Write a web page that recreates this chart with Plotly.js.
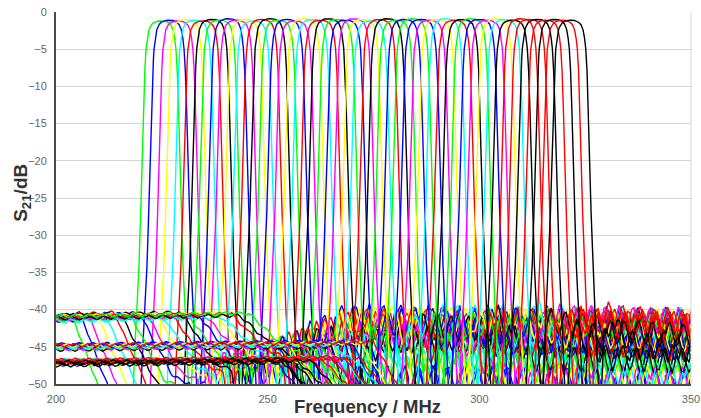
<!DOCTYPE html>
<html>
<head>
<meta charset="utf-8">
<script src="https://cdn.plot.ly/plotly-3.0.1.min.js"></script>
<style>html,body{margin:0;padding:0;background:#fff;}#chart{width:701px;height:418px;}</style>
</head>
<body>
<div id="chart"></div>
<script>
// Channel centre frequencies (MHz)
const centers = [224.8, 226.7, 228.8, 230.7, 232.8, 234.7, 236.8, 238.6, 240.7, 242.6,
                 244.7, 246.6, 248.6, 250.6, 252.5, 254.6, 256.5, 258.6, 260.5, 262.5,
                 264.4, 266.5, 268.4, 270.4, 272.4, 274.3, 276.4, 278.3, 280.3, 282.3,
                 284.2, 286.2, 288.2, 290.1, 292.1, 294.1, 296.0, 298.0, 300.0, 301.9,
                 303.9, 305.9, 307.8, 309.8, 311.8, 313.7, 315.7, 317.7, 319.6, 321.6];
// Passband peak (dB)
const peaks = [-1.2, -1.1, -1.2, -1.0, -1.1, -1.2, -1.0, -1.1, -0.9, -1.1,
               -1.0, -1.2, -1.0, -0.9, -1.1, -1.0, -1.2, -0.9, -1.0, -1.1,
               -0.9, -1.0, -1.1, -0.9, -1.0, -1.2, -1.0, -0.9, -1.1, -1.0,
               -0.9, -1.0, -1.1, -1.0, -0.9, -1.1, -1.0, -0.9, -1.0, -1.1,
               -0.9, -1.0, -1.1, -0.9, -1.0, -1.0, -1.1, -1.0, -1.1, -1.1];
const colors = ['#00ff00','#0000ff','#ff00ff','#ffff00','#00ffff','#ff0000','#000000',
                '#00ff00','#0000ff','#ff00ff','#ffff00','#00ffff','#ff0000','#000000',
                '#00ff00','#0000ff','#ff00ff','#ffff00','#00ffff','#ff0000','#000000',
                '#00ff00','#0000ff','#ff00ff','#ffff00','#00ffff','#ff0000','#000000',
                '#00ff00','#0000ff',
                '#00ff00','#0000ff','#ff00ff','#ffff00','#00ffff','#ff0000','#000000',
                '#00ff00','#0000ff','#ff00ff','#ffff00','#00ffff',
                '#000000','#ff0000','#ff0000','#000000','#ff0000','#000000','#ff0000','#000000'];
// Filter skirt shape: offset from centre (MHz) vs. attenuation relative to peak (dB)
const skirtOffset = [0, 1.0, 1.8, 2.4, 2.9, 3.25, 3.55, 3.85, 4.15, 4.45, 4.8, 5.2, 5.7, 6.2, 6.6, 7.0];
const skirtDb     = [0, -0.05, -0.25, -0.6, -1.3, -2.4, -3.9, -6.9, -11.9, -18.9, -25.9, -32.9, -38.9, -44.0, -49.0, -58.0];
// Lower stopband: level at 200 MHz, frequency where it starts to fall, level it falls to (dB)
const lowLevel = [-41.2, -40.9, -41.4, -41.0, -41.3, -40.8, -41.5, -41.1, -40.9, -41.3,
                  -41.0, -41.6, -41.2, -40.8, -41.4, -41.1, -41.3, -40.9, -41.5, -41.0,
                  -41.2, -40.9,
                  -45.0, -44.8, -45.3, -45.1, -44.9, -45.4, -45.0, -44.7, -45.2, -45.0,
                  -45.3, -44.9, -45.1, -44.8,
                  -47.2, -46.9, -47.4, -47.0, -47.3, -46.8, -47.5, -47.1, -46.9, -47.3,
                  -47.0, -47.2, -46.8, -47.1];
const lowKnee = [203.8, 205.7, 207.8, 209.7, 211.8, 213.7, 215.8, 217.6, 219.7, 221.6,
                 223.7, 225.6, 227.6, 229.6, 231.5, 233.6, 235.5, 237.6, 239.5, 241.5,
                 243.4, 245.5,
                 252, 258, 255, 262, 258, 265, 260, 268, 262, 270, 264, 272, 266, 275,
                 256, 262, 252, 266, 258, 270, 254, 263, 268, 257, 272, 260, 265, 253];
const lowEnd = [-53.0, -52.5, -52.0, -51.5, -51.0, -50.5, -50.0, -49.5, -49.0, -48.5,
                -48.0, -47.8, -47.5, -47.2, -47.0, -46.5, -46.2, -46.0, -45.5, -45.3,
                -45.0, -44.8,
                -51.0, -52.0, -51.5, -52.5, -51.2, -52.0, -51.8, -52.4, -51.0, -52.2,
                -51.6, -52.0, -51.3, -52.5,
                -52.0, -51.4, -52.6, -51.8, -52.2, -51.5, -52.8, -51.6, -52.0, -51.2,
                -52.4, -51.8, -52.0, -51.5];
// Upper stopband: level just above the passband and far level (dB)
const hiNear = [-49.0, -48.2, -47.6, -49.3, -48.0, -47.2, -48.6, -47.0, -46.6, -48.0,
                -46.2, -47.0, -45.0, -44.0, -46.5, -43.5, -45.5, -43.0, -44.5, -42.5,
                -46.0, -43.0, -42.0, -44.0, -41.5, -43.0, -47.0, -42.0, -41.0, -43.5,
                -42.5, -40.5, -44.0, -41.5, -46.5, -42.0, -40.5, -43.0, -41.0, -44.5,
                -42.0, -40.0, -41.5, -43.0, -40.5, -42.0, -41.0, -43.5, -40.5, -41.5];
const hiFar = [-42.5, -49.0, -43.0, -41.5, -46.5, -42.0, -44.0, -48.5, -41.0, -43.5,
               -42.0, -46.8, -41.5, -44.0, -42.5, -49.2, -43.0, -41.2, -45.0, -42.0,
               -43.8, -46.5, -41.5, -42.8, -48.8, -41.0, -44.2, -42.5, -46.2, -43.0,
               -41.8, -44.5, -49.0, -42.0, -43.2, -41.5, -46.6, -42.5, -44.0, -41.0,
               -43.5, -48.6, -42.2, -41.5, -44.8, -46.4, -42.0, -43.0, -41.2, -45.0];
// Stopband ripple (dB, every 0.5 MHz) and each trace's starting point in it
const ripple = [0.0, 0.9, 1.3, 0.6, -0.5, -1.2, -0.8, 0.2, 1.1, 1.0, 0.1, -0.9, -1.3, -0.4,
                0.7, 1.4, 0.8, -0.3, -1.1, -1.0, 0.0, 1.0, 1.2, 0.3, -0.7, -1.4, -0.6, 0.5];
const ripplePhase = [0, 11, 5, 19, 2, 24, 9, 15, 27, 4, 13, 21, 7, 17, 1, 25, 10, 3, 22, 14,
                     6, 26, 12, 18, 8, 20, 16, 23, 2, 11, 27, 5, 19, 9, 24, 13, 1, 17, 7, 21,
                     15, 3, 25, 10, 22, 6, 18, 12, 26, 8];
const xTicks = [200, 250, 300, 350];

function interp(xs, ys, x) {
  if (x <= xs[0]) return ys[0];
  for (let k = 1; k < xs.length; k++) {
    if (x <= xs[k]) { const t = (x - xs[k-1]) / (xs[k] - xs[k-1]); return ys[k-1] + t * (ys[k] - ys[k-1]); }
  }
  return ys[ys.length - 1];
}
function rip(f, ph) {
  const L = ripple.length; let p = f * 2 + ph; p = ((p % L) + L) % L;
  const a = Math.floor(p), b = (a + 1) % L, t = p - a;
  return ripple[a] * (1 - t) + ripple[b] * t;
}

const traces = [];
for (let i = 0; i < centers.length; i++) {
  const c = centers[i];
  const fs = [];
  for (let k = 0; k <= 300; k++) fs.push(200 + k * 0.5);
  skirtOffset.forEach(o => { fs.push(c - o); fs.push(c + o); });
  fs.sort((a, b) => a - b);
  const k0 = lowKnee[i], k1 = Math.min(lowKnee[i] + 8, c - 9.5);
  const lowX = [200, k0, k1, c - 9, c - 6.5];
  const lowY = [lowLevel[i], lowLevel[i] + 0.4, lowEnd[i], lowEnd[i] - 1, -60];
  const hiX = [c + 6.5, c + 8, Math.max(c + 16, 268), 350];
  const hiY = [-60, hiNear[i], hiFar[i], hiFar[i] - 0.5];
  const xs = [], ys = [];
  let last = null;
  fs.forEach(f => {
    if (f < 200 || f > 350 || f === last) return; last = f;
    const d = Math.abs(f - c);
    const pb = d >= 7 ? -60 : peaks[i] + interp(skirtOffset, skirtDb, d);
    let fl;
    if (f < c - 6.5) fl = interp(lowX, lowY, f) + 0.18 * rip(f, ripplePhase[i]);
    else if (f > c + 6.5) fl = interp(hiX, hiY, f) + (f > c + 8 ? 1.3 * rip(f, ripplePhase[i]) : 0);
    else fl = -60;
    xs.push(f); ys.push(Math.max(pb, fl));
  });
  traces.push({x: xs, y: ys, type: 'scatter', mode: 'lines', hoverinfo: 'skip',
               line: {color: colors[i], width: 1.4}, showlegend: false});
}

const layout = {
  width: 701, height: 418,
  margin: {l: 56, r: 10, t: 12, b: 34},
  paper_bgcolor: '#fff', plot_bgcolor: '#fff',
  showlegend: false,
  xaxis: {range: [200, 350], tickvals: xTicks, ticktext: xTicks.map(String),
          showgrid: false, zeroline: false, showline: true, linecolor: '#4a4a4a', linewidth: 2,
          ticks: '', ticklabelstandoff: 4,
          tickfont: {family: 'Liberation Sans, Arial, sans-serif', size: 11, color: '#666'}},
  yaxis: {range: [-50, 0], dtick: 5, showgrid: true, gridcolor: '#d6d6d6', gridwidth: 1,
          zeroline: false, showline: true, linecolor: '#4a4a4a', linewidth: 2, ticks: '',
          ticklabelstandoff: 5,
          tickfont: {family: 'Liberation Sans, Arial, sans-serif', size: 11, color: '#666'}},
  shapes: [{type: 'line', xref: 'paper', yref: 'paper', x0: 1, x1: 1, y0: 0, y1: 1,
            line: {color: '#d6d6d6', width: 1}}],
  annotations: [
    {text: '<b>Frequency / MHz</b>', xref: 'paper', yref: 'paper', x: 0.49, y: -0.06,
     xanchor: 'center', yanchor: 'middle', showarrow: false,
     font: {family: 'Liberation Sans, Arial, sans-serif', size: 18.5, color: '#333'}},
    {text: '<b>S<sub>21</sub>/dB</b>', xref: 'paper', yref: 'paper', x: -0.054, y: 0.513,
     xanchor: 'center', yanchor: 'middle', textangle: -90, showarrow: false,
     font: {family: 'Liberation Sans, Arial, sans-serif', size: 19, color: '#333'}}
  ]
};
Plotly.newPlot('chart', traces, layout, {staticPlot: true, displayModeBar: false});
</script>
</body>
</html>
